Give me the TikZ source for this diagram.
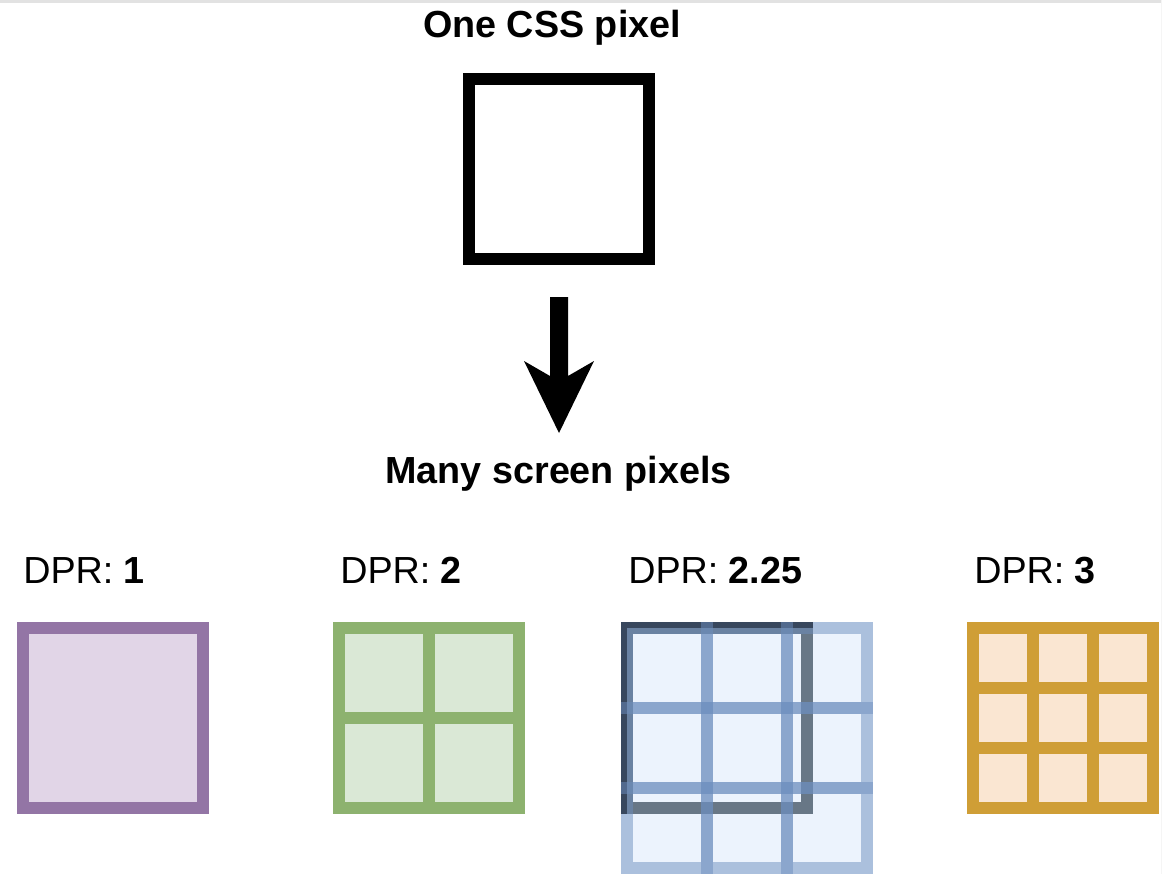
\documentclass[tikz,border=0pt]{standalone}
\usepackage{fontspec}
\setmainfont{Liberation Sans}
\definecolor{purpS}{HTML}{9375A5}
\definecolor{purpF}{HTML}{E1D5E7}
\definecolor{grnS}{HTML}{8DB26F}
\definecolor{grnF}{HTML}{DAE8D6}
\definecolor{orgS}{HTML}{CF9E36}
\definecolor{orgF}{HTML}{FAE6D2}
\definecolor{bluS}{HTML}{6C8EBF}
\definecolor{bluF}{HTML}{ECF3FD}
\definecolor{darkS}{HTML}{314354}
\definecolor{navy}{HTML}{38475D}
\definecolor{topgray}{HTML}{E2E2E2}
\begin{document}
\begin{tikzpicture}[x=0.75pt,y=-0.75pt,
  lbl/.style={inner sep=0pt,font=\fontsize{28.3pt}{34pt}\selectfont},
  thick px/.style={line width=9pt},
  boxsq/.style={thick px,rectangle,inner sep=0pt,minimum size=135pt},
  bluecell/.style={thick px,draw=bluS,draw opacity=0.5},
  gridline/.style={thick px,draw=#1}
]
\useasboundingbox (0,0) rectangle (1162,874);
\fill[white] (0,0) rectangle (1162,874);
\fill[topgray] (0,0) rectangle (1162,3);
\fill[gray!8] (1161,0) rectangle (1162,874);

% titles
\node[lbl,anchor=base] (t1) at (552,37.5) {\textbf{One CSS pixel}};
\node[boxsq,draw=black] (css) at (559,169) {};
\coordinate (ar) at (559,297);
\fill[black] (550,297) -- (568,297) -- (568,376) -- (594,361) -- (559,433) -- (524,361) -- (550,376) -- cycle;
\node[lbl,anchor=base] (t2) at (558.5,483) {\textbf{Many screen pixels}};

% labels
\node[lbl,anchor=base west] (l1) at (23,583) {DPR: \textbf{1}};
\node[lbl,anchor=base west] (l2) at (340,583) {DPR: \textbf{2}};
\node[lbl,anchor=base west] (l3) at (628,583) {DPR: \textbf{2.25}};
\node[lbl,anchor=base west] (l4) at (974,583) {DPR: \textbf{3}};

% DPR 1
\node[boxsq,draw=purpS,fill=purpF] (d1) at (113,718) {};

% DPR 2
\node[boxsq,draw=grnS,fill=grnF] (d2) at (429,718) {};
\draw[gridline=grnS] (d2.north) -- (d2.south);
\draw[gridline=grnS] (d2.west) -- (d2.east);

% DPR 3
\node[boxsq,draw=orgS,fill=orgF] (d4) at (1063,718) {};
\draw[gridline=orgS] (1033,628) -- (1033,808);
\draw[gridline=orgS] (1093,628) -- (1093,808);
\draw[gridline=orgS] (973,688) -- (1153,688);
\draw[gridline=orgS] (973,748) -- (1153,748);

% DPR 2.25
\fill[bluF] (621,622) rectangle (873,874);
\draw[thick px,draw=darkS,draw opacity=0.7] (627,628) rectangle (807,808);
\fill[navy] (621,622) rectangle (813,628);
\fill[navy] (621,622) rectangle (627,814);
\begin{scope}
  \clip (627,628) -- (813,628) -- (813,622) -- (880,622) -- (880,880) -- (615,880) -- (615,814) -- (627,814) -- cycle;
  \foreach \i in {0,1,2} {
    \foreach \j in {0,1,2} {
      \draw[bluecell] ({627+80*\i},{628+80*\j}) rectangle ({707+80*\i},{708+80*\j});
    }
  }
\end{scope}
\fill[bluS,opacity=0.5] (701,622) rectangle (713,628);
\fill[bluS,opacity=0.5] (781,622) rectangle (793,628);
\fill[bluS,opacity=0.5] (621,702) rectangle (627,714);
\fill[bluS,opacity=0.5] (621,782) rectangle (627,794);
\end{tikzpicture}
\end{document}
